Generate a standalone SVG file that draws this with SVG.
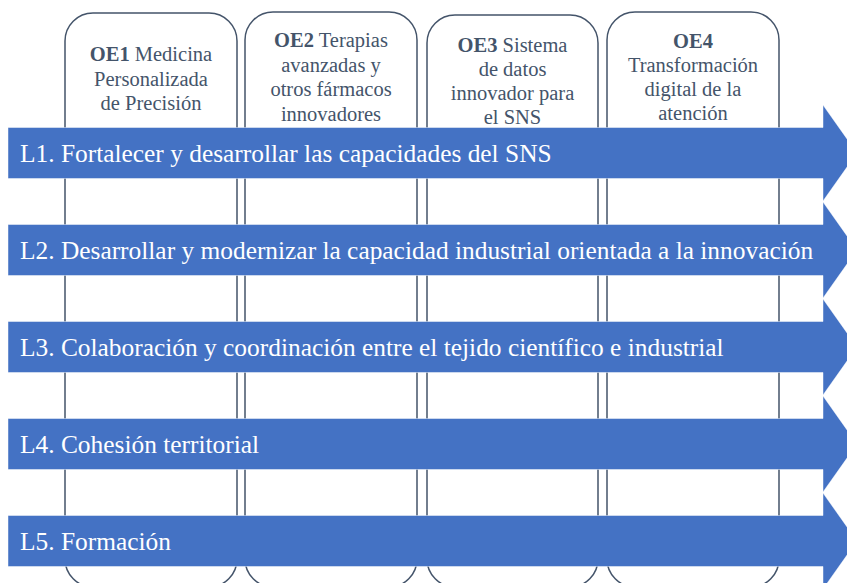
<svg xmlns="http://www.w3.org/2000/svg" width="847" height="583" viewBox="0 0 847 583">
<style>
.col{fill:#fff;stroke:#44546A;stroke-width:1.5}
.ct{font-size:20.5px;fill:#44546A;text-anchor:middle}
.b{font-weight:bold}
.bar{fill:#4472C4;stroke:#fff;stroke-opacity:0.45;stroke-width:1}
.bt{font-size:25.4px;fill:#fff}
</style>
<rect width="847" height="583" fill="#fff"/>
<g font-family="Liberation Serif, Times New Roman, serif">
<g id="OE1">
<rect class="col" x="65" y="13" width="172" height="574" rx="28"/>
<text class="ct" x="151" y="61"><tspan class="b">OE1</tspan> Medicina</text>
<text class="ct" x="151" y="85.5">Personalizada</text>
<text class="ct" x="151" y="110">de Precisión</text>
</g>
<g id="OE2">
<rect class="col" x="245" y="12" width="172" height="575" rx="28"/>
<text class="ct" x="331" y="47"><tspan class="b">OE2</tspan> Terapias</text>
<text class="ct" x="331" y="71.5">avanzadas y</text>
<text class="ct" x="331" y="96">otros fármacos</text>
<text class="ct" x="331" y="120.5">innovadores</text>
</g>
<g id="OE3">
<rect class="col" x="427" y="15" width="171" height="572" rx="28"/>
<text class="ct" x="512.5" y="52"><tspan class="b">OE3</tspan> Sistema</text>
<text class="ct" x="512.5" y="76">de datos</text>
<text class="ct" x="512.5" y="100">innovador para</text>
<text class="ct" x="512.5" y="124">el SNS</text>
</g>
<g id="OE4">
<rect class="col" x="607" y="12" width="172" height="575" rx="28"/>
<text class="ct b" x="693" y="48">OE4</text>
<text class="ct" x="693" y="72">Transformación</text>
<text class="ct" x="693" y="96">digital de la</text>
<text class="ct" x="693" y="120">atención</text>
</g>
<g id="L1">
<path class="bar" d="M8,127.5H823V105L857,153L823,201V178.5H8Z"/>
<text class="bt" x="20" y="162">L1. Fortalecer y desarrollar las capacidades del SNS</text>
</g>
<g id="L2">
<path class="bar" d="M8,224.5H823V202L857,250L823,298V275.5H8Z"/>
<text class="bt" x="20" y="259">L2. Desarrollar y modernizar la capacidad industrial orientada a la innovación</text>
</g>
<g id="L3">
<path class="bar" d="M8,321.5H823V299L857,347L823,395V372.5H8Z"/>
<text class="bt" x="20" y="356">L3. Colaboración y coordinación entre el tejido científico e industrial</text>
</g>
<g id="L4">
<path class="bar" d="M8,418.5H823V396L857,444L823,492V469.5H8Z"/>
<text class="bt" x="20" y="453">L4. Cohesión territorial</text>
</g>
<g id="L5">
<path class="bar" d="M8,515.5H823V493L857,541L823,589V566.5H8Z"/>
<text class="bt" x="20" y="550">L5. Formación</text>
</g>
</g>
<g id="connectors"/>
</svg>
